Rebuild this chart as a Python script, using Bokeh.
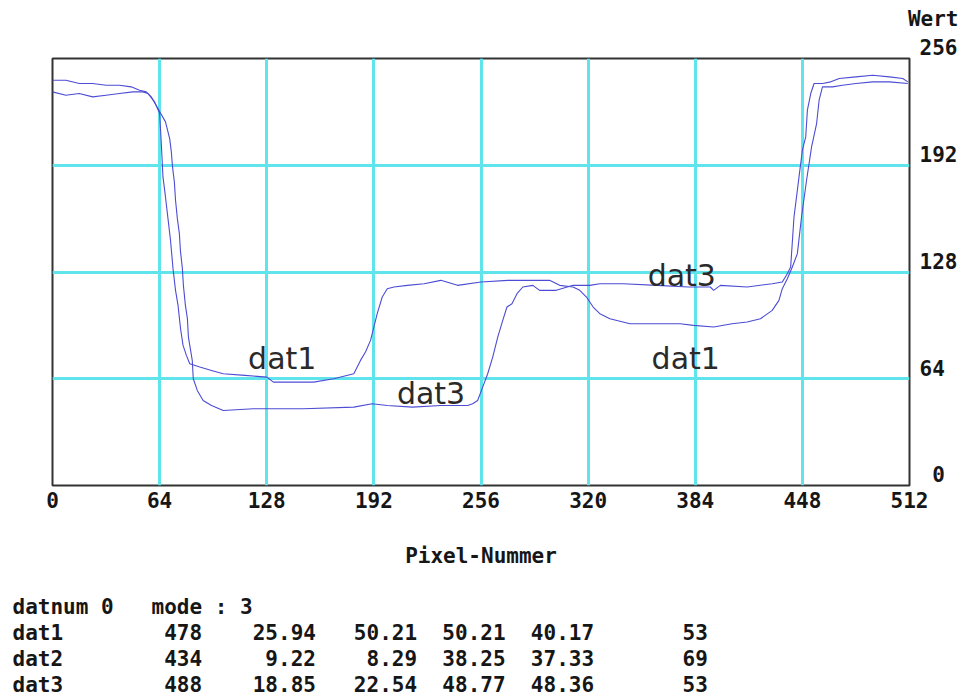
from bokeh.plotting import figure
from bokeh.models import Range1d, FixedTicker, Label, Title
from bokeh.embed import file_html
from bokeh.resources import INLINE

# ---------------- data ----------------
X_TICKS = [0, 64, 128, 192, 256, 320, 384, 448, 512]
Y_TICKS = [0, 64, 128, 192, 256]
X_GRID = [64, 128, 192, 256, 320, 384, 448]
Y_GRID = [64, 128, 192]

dat1_x = [0, 8, 16, 24, 32, 40, 48, 54, 57, 61, 64, 65, 66, 67.5, 69, 70.5, 72, 73.5,
          75, 76.5, 78, 80, 82, 88, 95, 102, 115, 128, 132, 146, 156, 168, 180, 184,
          187, 190, 194, 197, 200, 204, 212, 222, 232, 242, 256, 272, 297, 303, 311,
          315, 319, 323, 327, 333, 345, 360, 375, 383, 395, 406, 415, 423, 430, 434,
          436, 439, 442, 445, 447.5, 450.5, 453.5, 456.5, 458, 460, 466, 472, 480,
          490, 500, 511]
dat1_y = [236, 234, 235, 233, 234, 235, 236, 236, 235, 230, 223, 205, 185, 173, 160,
          147, 130, 117, 108, 94, 84, 78, 73, 71, 69, 67, 66, 65, 62, 62, 62, 64, 67,
          75, 80, 87, 103, 113, 118, 119, 120, 121, 123, 120, 122, 123, 123, 120, 119,
          117, 113, 107, 103, 100, 97, 97, 97, 96, 95, 97, 98, 100, 105, 111, 118, 124,
          131, 139, 161, 183, 203, 217, 231, 239, 239, 240, 241, 242, 242, 241]

dat3_x = [0, 8, 16, 24, 32, 40, 47, 52, 56, 59, 63, 67.5, 70, 71, 71.7, 72.8, 73.5,
          74.6, 75.8, 76.4, 77.6, 78.2, 79.4, 80.6, 81.2, 83.5, 84.1, 86.5, 90, 95,
          102, 120, 150, 180, 191, 200, 215, 232, 248, 251, 254, 257, 260, 263, 266,
          269, 271.5, 274.5, 277.5, 281, 287, 291, 301, 311, 321, 327, 341, 361, 380,
          393, 395, 399, 415, 430, 436, 439, 441, 443, 446, 448, 450, 451, 453, 455,
          460, 465, 470, 480, 490, 500, 508, 511]
dat3_y = [243, 243, 241, 241, 240, 240, 239, 237, 236, 233, 226, 218, 208, 200, 191,
          182, 171, 160, 151, 141, 130, 120, 108, 100, 89, 75, 64, 57, 51, 48, 45, 46,
          46, 47, 49, 48, 47, 48, 48, 49, 51, 59, 67, 77, 89, 99, 107, 109, 115, 119,
          120, 117, 117, 120, 120, 121, 121, 120, 119, 119, 117, 120, 119, 121, 122,
          127, 131, 161, 185, 201, 209, 225, 235, 241, 241, 242, 244, 245, 246, 245,
          244, 242]

HEADER = ["datnum 0", "mode : 3"]
ROW_NAMES = ["dat1", "dat2", "dat3"]
COL_1 = ["478", "434", "488"]
COL_2 = ["25.94", "9.22", "18.85"]
COL_3 = ["50.21", "8.29", "22.54"]
COL_4 = ["50.21", "38.25", "48.77"]
COL_5 = ["40.17", "37.33", "48.36"]
COL_6 = ["53", "69", "53"]

# ---------------- layout (page pixels) ----------------
W, H = 960, 697
FL, FR, FT, FB = 52, 910, 58, 485
COL_END = [15, 24, 32, 39, 46, 55]   # monospace column ends (characters)


def dx(px):
    return (px - FL) * 512.0 / (FR - FL)


def dy(py):
    return (FB - py) * 256.0 / (FB - FT)


MONO = "DejaVu Sans Mono"
INK = "#161616"
LINE_C = "#4c4cd4"
GRID_C = "#5fe4ec"
NB = "\u00a0"

p = figure(width=W, height=H, x_range=Range1d(0, 512), y_range=Range1d(0, 256),
           output_backend="svg", toolbar_location=None, y_axis_location="right",
           min_border_left=FL, min_border_right=W - FR,
           min_border_top=FT, min_border_bottom=H - FB)
p.background_fill_color = "white"
p.border_fill_color = "white"
p.outline_line_color = "#333333"
p.outline_line_width = 2

# value-axis caption above the right axis (second empty line lifts it up)
p.title.text = "Wert\n" + NB
p.title.align = "right"
p.title.offset = -49
p.title.standoff = 8
p.title.text_line_height = 1.0
p.title.text_font = MONO
p.title.text_font_style = "bold"
p.title.text_font_size = "21px"
p.title.text_color = INK

for g, t in ((p.xgrid, X_GRID), (p.ygrid, Y_GRID)):
    g.ticker = FixedTicker(ticks=t)
    g.grid_line_color = GRID_C
    g.grid_line_width = 3

xa = p.xaxis[0]
xa.ticker = FixedTicker(ticks=X_TICKS)
xa.axis_label = "Pixel-Nummer"
ya = p.yaxis[0]
ya.ticker = FixedTicker(ticks=Y_TICKS)
# value labels sit slightly above their grid line, as in the original
ya.major_label_overrides = {v: (NB + "0" if v == 0 else str(v)) + "\n" + NB for v in Y_TICKS}
ya.major_label_text_line_height = 0.85
for ax in (xa, ya):
    ax.axis_line_color = None
    ax.major_tick_line_color = None
    ax.minor_tick_line_color = None
    ax.major_tick_out = 0
    ax.major_tick_in = 0
    ax.minor_tick_out = 0
    ax.major_label_text_font = MONO
    ax.major_label_text_font_style = "bold"
    ax.major_label_text_font_size = "21px"
    ax.major_label_text_color = INK
    ax.axis_label_text_font = MONO
    ax.axis_label_text_font_style = "bold"
    ax.axis_label_text_font_size = "21px"
    ax.axis_label_text_color = INK
xa.major_label_standoff = 6
xa.axis_label_standoff = 33
ya.major_label_standoff = 10

p.line(dat1_x, dat1_y, line_color=LINE_C, line_width=1.1)
p.line(dat3_x, dat3_y, line_color=LINE_C, line_width=1.1)

# curve annotations
for txt, px, py in (("dat1", 282, 358), ("dat3", 431, 393), ("dat3", 682, 275), ("dat1", 686, 358)):
    p.add_layout(Label(x=dx(px), y=dy(py), text=txt, text_align="center",
                       text_baseline="alphabetic", text_font="DejaVu Sans",
                       text_font_size="30px", text_color="#2a2a2a"))

# ---------------- statistics table below the chart (monospace rows) ----------------
# small spacer between the axis title and the table
p.add_layout(Title(text=NB, text_font_size="2px", standoff=18), "below")

rows = [HEADER[0] + " " * 3 + HEADER[1]]
for i, name in enumerate(ROW_NAMES):
    s = name
    for col, end in zip((COL_1, COL_2, COL_3, COL_4, COL_5, COL_6), COL_END):
        s = s + col[i].rjust(end - len(s))
    rows.append(s)

for k, r in enumerate(rows):
    p.add_layout(Title(text=r.replace(" ", NB), align="left", offset=12 - FL,
                       standoff=0, text_font=MONO,
                       text_font_style="bold", text_font_size="21px",
                       text_color=INK), "below")

open("out.html", "w").write(file_html(p, INLINE))
